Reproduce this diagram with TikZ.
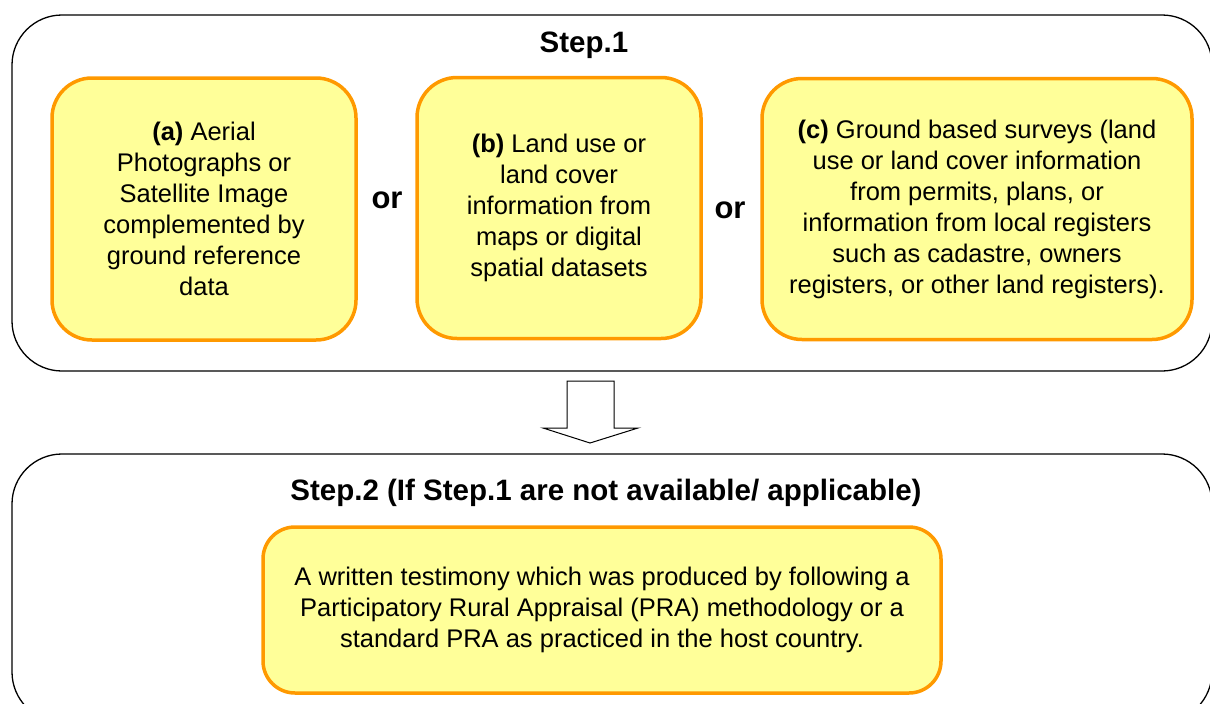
\documentclass[tikz,border=0pt]{standalone}
\usepackage{fontspec}
\setmainfont{Liberation Sans}
\definecolor{cardfill}{HTML}{FFFF99}
\definecolor{cardline}{HTML}{FF9900}
\begin{document}
\begin{tikzpicture}[x=1pt,y=-1pt,
  panel/.style={draw=black, line width=1.3pt, rounded corners=50pt, inner sep=0pt},
  card/.style={draw=cardline, fill=cardfill, line width=3.5pt, rounded corners=40pt,
    align=center, font=\fontsize{25.5}{31}\selectfont, inner sep=0pt},
  heading/.style={font=\fontsize{29.5}{35}\bfseries\selectfont, inner sep=0pt},
  ortext/.style={font=\fontsize{31}{36}\bfseries\selectfont, inner sep=0pt},
  hollowarrow/.style={draw=black, line width=1pt, fill=white, line join=miter}]
\clip (0,0) rectangle (1210,704);

% the two step panels
\node[panel, minimum width=1200pt, minimum height=356pt] (stepone) at (612,193) {};
\node[panel, minimum width=1200pt, minimum height=268pt] (steptwo) at (612,588) {};

% headings
\node[heading] (titleone) at (584,45) {Step.1};
\node[heading] (titletwo) at (606,493) {Step.2 (If Step.1 are not available/ applicable)};

% step 1 alternatives
\node[card, minimum width=304pt, minimum height=262pt] (srca) at (204,209)
  {\textbf{(a)} Aerial\\Photographs or\\Satellite Image\\complemented by\\ground reference\\data};
\node[card, minimum width=284pt, minimum height=261pt] (srcb) at (559,208)
  {\textbf{(b)} Land use or\\land cover\\information from\\maps or digital\\spatial datasets};
\node[card, minimum width=430pt, minimum height=261pt] (srcc) at (977,209)
  {\textbf{(c)} Ground based surveys (land\\use or land cover information\\from permits, plans, or\\information from local registers\\such as cadastre, owners\\registers, or other land registers).};

\node[ortext] (orone) at (387,200) {or};
\node[ortext] (ortwo) at (730,210) {or};

% step 2 fallback
\node[card, rounded corners=32pt, minimum width=678pt, minimum height=166pt] (pra) at (602,610)
  {A written testimony which was produced by following a\\Participatory Rural Appraisal (PRA) methodology or a\\standard PRA as practiced in the host country.};

% hollow arrow from step 1 to step 2
\draw[hollowarrow] (567,381) -- (614,381) -- (614,428) -- (638,428) -- (590,443)
  -- (543,428) -- (567,428) -- cycle;
\end{tikzpicture}
\end{document}
